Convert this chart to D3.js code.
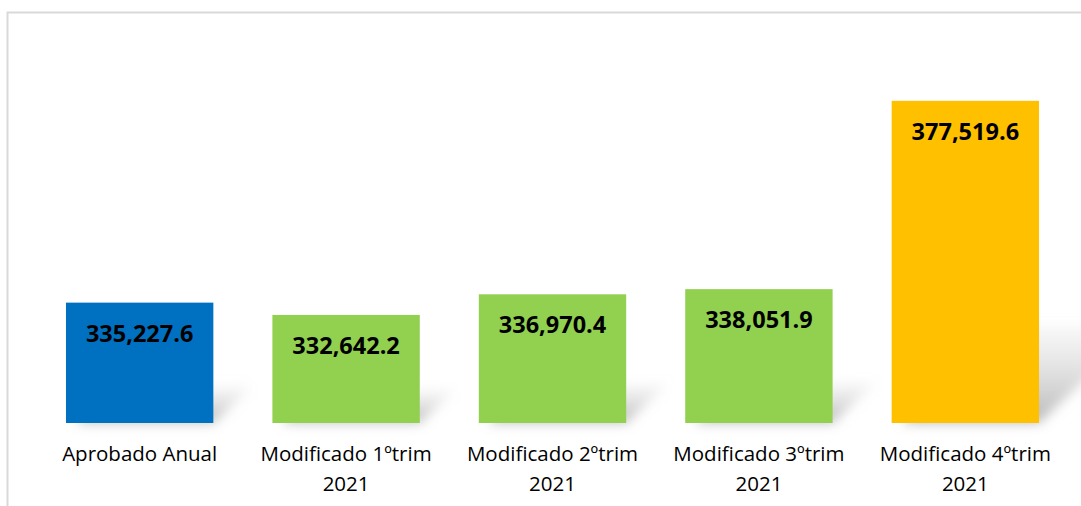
<html>
<head>
<meta charset="utf-8">
<title>Presupuesto 2021</title>
<style>
  body { margin: 0; background: #fff; }
  svg { display: block; }
</style>
<script src="https://d3js.org/d3.v7.min.js"></script>
</head>
<body>
<svg width="1081" height="506"></svg>
<script>
var categories = [["Aprobado Anual"], ["Modificado 1ºtrim", "2021"], ["Modificado 2ºtrim", "2021"], ["Modificado 3ºtrim", "2021"], ["Modificado 4ºtrim", "2021"]];
var values = [335227.6, 332642.2, 336970.4, 338051.9, 377519.6];
var colors = ["#0070C0", "#92D050", "#92D050", "#92D050", "#FFC000"];

var svg = d3.select("svg");
var fmt = d3.format(",.1f");

// chart frame
svg.append("rect")
  .attr("x", 7.5).attr("y", 12.5)
  .attr("width", 1200).attr("height", 600)
  .attr("fill", "none").attr("stroke", "#d9d9d9").attr("stroke-width", 2);

var idx = d3.range(values.length);
var x = d3.scaleBand().domain(idx).range([35, 1070]).paddingInner(0.286).paddingOuter(0.15);
var y = d3.scaleLinear().domain([310000, 380000]).range([423, 89]);

var defs = svg.append("defs");
defs.append("filter").attr("id", "blur")
  .attr("x", "-50%").attr("y", "-50%").attr("width", "200%").attr("height", "200%")
  .append("feGaussianBlur").attr("stdDeviation", 6);
var grad = defs.append("linearGradient").attr("id", "shade")
  .attr("x1", 0).attr("y1", 1).attr("x2", 0).attr("y2", 0);
grad.append("stop").attr("offset", "0%").attr("stop-color", "#999").attr("stop-opacity", 0.7);
grad.append("stop").attr("offset", "100%").attr("stop-color", "#ccc").attr("stop-opacity", 0.15);

// perspective shadows
svg.append("g").selectAll("polygon").data(idx).join("polygon")
  .attr("points", function(i) {
    var x0 = x(i), x1 = x(i) + x.bandwidth(), b = y.range()[0];
    var h = b - y(values[i]);
    var dx = h * 0.32, dy = h * 0.3;
    return [[x0 + 10, b], [x1, b], [x1 + dx, b - dy], [x0 + dx, b - dy]].join(" ");
  })
  .attr("fill", "url(#shade)")
  .attr("filter", "url(#blur)");

svg.append("g").selectAll("rect").data(idx).join("rect")
  .attr("x", function(i) { return x(i); })
  .attr("y", function(i) { return y(values[i]); })
  .attr("width", x.bandwidth())
  .attr("height", function(i) { return y.range()[0] - y(values[i]); })
  .attr("fill", function(i) { return colors[i]; });

svg.append("g").selectAll("text").data(idx).join("text")
  .attr("x", function(i) { return x(i) + x.bandwidth() / 2; })
  .attr("y", function(i) { return y(values[i]) + 39; })
  .attr("text-anchor", "middle")
  .attr("font-family", "'Open Sans', sans-serif")
  .attr("font-weight", "bold")
  .attr("font-size", 23.5)
  .attr("fill", "#000")
  .text(function(i) { return fmt(values[i]); });

var labels = svg.append("g").selectAll("text").data(idx).join("text")
  .attr("text-anchor", "middle")
  .attr("font-family", "'Open Sans', sans-serif")
  .attr("font-size", 20.5)
  .attr("fill", "#000");
labels.each(function(i) {
  var t = d3.select(this);
  categories[i].forEach(function(line, k) {
    t.append("tspan")
      .attr("x", x(i) + x.bandwidth() / 2)
      .attr("y", 461 + k * 29.5)
      .text(line);
  });
});
</script>
</body>
</html>
